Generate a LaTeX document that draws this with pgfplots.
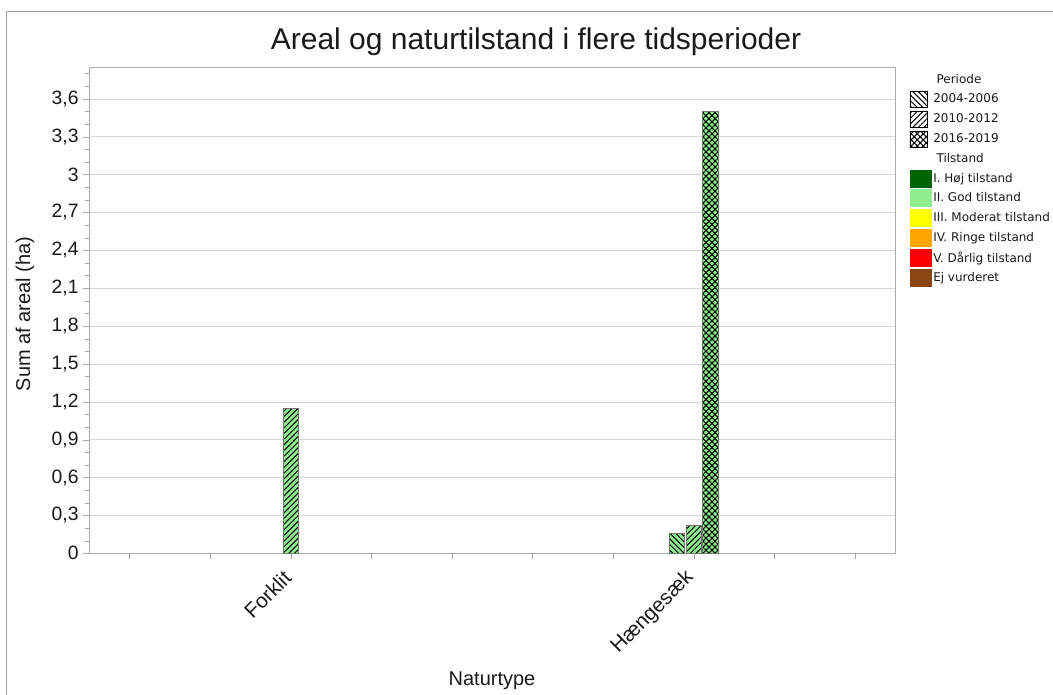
\documentclass[border=0pt]{standalone}
\usepackage{fontspec}
\setmainfont{Liberation Sans}
\newfontfamily\legfont{DejaVu Sans}
\usepackage{pgfplots}
\pgfplotsset{compat=1.18}
\usetikzlibrary{patterns.meta}

\definecolor{hoj}{HTML}{006400}
\definecolor{god}{HTML}{90EE90}
\definecolor{moderat}{HTML}{FFFF00}
\definecolor{ringe}{HTML}{FFA500}
\definecolor{darlig}{HTML}{FF0000}
\definecolor{ejvurd}{HTML}{8B4513}

\begin{document}
\begin{tikzpicture}
\useasboundingbox (-66.975pt,-106.275pt) rectangle (722.775pt,414.975pt);
\draw[gray!75] (-61.95pt,-106.275pt) -- (-61.95pt,406.725pt) -- (722.775pt,406.725pt);
\begin{axis}[
    at={(0pt,0pt)}, anchor=south west,
    scale only axis, width=604.5pt, height=364.5pt,
    xmin=-0.5, xmax=9.5,
    ymin=0, ymax=3.85,
    xtick={0,...,9},
    xticklabels={,,Forklit,,,,,Hængesæk,,},
    ytick={0,0.3,0.6,0.9,1.2,1.5,1.8,2.1,2.4,2.7,3,3.3,3.6},
    minor ytick={0.1,0.2,0.4,0.5,0.7,0.8,1.0,1.1,1.3,1.4,1.6,1.7,1.9,2.0,2.2,2.3,2.5,2.6,2.8,2.9,3.1,3.2,3.4,3.5,3.7,3.8},
    xtick pos=left, ytick pos=left,
    tick align=outside,
    major tick length=4.5pt, minor tick length=3pt,
    tick style={gray!70},
    axis line style={gray!65},
    ymajorgrids, major grid style={gray!30},
    scaled y ticks=false,
    /pgf/number format/assume math mode=true,
    /pgf/number format/use comma,
    yticklabel style={/pgf/number format/fixed, /pgf/number format/precision=1},
    ticklabel style={font=\fontsize{14.5}{17}\selectfont, text=black!90},
    xticklabel style={yshift=-9pt, rotate=45, anchor=east, font=\fontsize{15.5}{18}\selectfont},
    title={Areal og naturtilstand i flere tidsperioder},
    title style={at={(axis description cs:0.5542,1)}, anchor=base, yshift=7pt,
        font=\fontsize{22.5}{26}\selectfont, text=black!90},
    xlabel={Naturtype},
    xlabel style={at={(axis description cs:0.4996,-0.2628)}, anchor=center,
        font=\fontsize{15}{18}\selectfont, text=black!90},
    ylabel={Sum af areal (ha)},
    ylabel style={at={(axis description cs:-0.0797,0.4924)}, anchor=center,
        font=\fontsize{15}{18}\selectfont, text=black!90},
    legend style={at={(axis description cs:1.01762,0.995)}, anchor=north west,
        draw=none, fill=none, inner sep=0pt, outer sep=0pt, row sep=0pt,
        font=\legfont\fontsize{9}{10.5}\selectfont,
        nodes={inner sep=0pt, text=black!90}, cells={anchor=west},
        /tikz/every odd column/.append style={column sep=1pt}},
]

% legend: periods (patterns) and condition classes (colours)
\addlegendimage{legend image code/.code={\path[draw=none,fill=none] (0pt,-7.425pt) rectangle (16.5pt,7.425pt);}}
\addlegendentry[xshift=2.5pt]{Periode}
\addlegendimage{legend image code/.code={\path[draw=none,fill=none] (0pt,-7.425pt) rectangle (16.5pt,7.425pt);
    \draw[black, line width=0.6pt, pattern color=black, pattern={Lines[angle=-45,distance=3pt,line width=0.75pt]}] (0pt,-6pt) rectangle (12.75pt,6pt);}}
\addlegendentry{2004-2006}
\addlegendimage{legend image code/.code={\path[draw=none,fill=none] (0pt,-7.425pt) rectangle (16.5pt,7.425pt);
    \draw[black, line width=0.6pt, pattern color=black, pattern={Lines[angle=45,distance=3pt,line width=0.75pt]}] (0pt,-6pt) rectangle (12.75pt,6pt);}}
\addlegendentry{2010-2012}
\addlegendimage{legend image code/.code={\path[draw=none,fill=none] (0pt,-7.425pt) rectangle (16.5pt,7.425pt);
    \path[draw=none, pattern color=black, pattern={Lines[angle=45,distance=3.2pt,line width=0.8pt]}] (0pt,-6pt) rectangle (12.75pt,6pt);
    \draw[black, line width=0.6pt, pattern color=black, pattern={Lines[angle=-45,distance=3.2pt,line width=0.8pt]}] (0pt,-6pt) rectangle (12.75pt,6pt);}}
\addlegendentry{2016-2019}
\addlegendimage{legend image code/.code={\path[draw=none,fill=none] (0pt,-7.425pt) rectangle (16.5pt,7.425pt);}}
\addlegendentry[xshift=2.5pt]{Tilstand}
\addlegendimage{legend image code/.code={\path[draw=none,fill=none] (0pt,-7.425pt) rectangle (16.5pt,7.425pt);
    \fill[hoj, draw=none] (0pt,-6.75pt) rectangle (16.5pt,6.75pt);}}
\addlegendentry{I. Høj tilstand}
\addlegendimage{legend image code/.code={\path[draw=none,fill=none] (0pt,-7.425pt) rectangle (16.5pt,7.425pt);
    \fill[god, draw=none] (0pt,-6.75pt) rectangle (16.5pt,6.75pt);}}
\addlegendentry{II. God tilstand}
\addlegendimage{legend image code/.code={\path[draw=none,fill=none] (0pt,-7.425pt) rectangle (16.5pt,7.425pt);
    \fill[moderat, draw=none] (0pt,-6.75pt) rectangle (16.5pt,6.75pt);}}
\addlegendentry{III. Moderat tilstand}
\addlegendimage{legend image code/.code={\path[draw=none,fill=none] (0pt,-7.425pt) rectangle (16.5pt,7.425pt);
    \fill[ringe, draw=none] (0pt,-6.75pt) rectangle (16.5pt,6.75pt);}}
\addlegendentry{IV. Ringe tilstand}
\addlegendimage{legend image code/.code={\path[draw=none,fill=none] (0pt,-7.425pt) rectangle (16.5pt,7.425pt);
    \fill[darlig, draw=none] (0pt,-6.75pt) rectangle (16.5pt,6.75pt);}}
\addlegendentry{V. Dårlig tilstand}
\addlegendimage{legend image code/.code={\path[draw=none,fill=none] (0pt,-7.425pt) rectangle (16.5pt,7.425pt);
    \fill[ejvurd, draw=none] (0pt,-6.75pt) rectangle (16.5pt,6.75pt);}}
\addlegendentry{Ej vurderet}

% 2004-2006
\addplot[ybar, bar width=11.6pt, bar shift=-12.56pt, fill=god, draw=black!55, line width=0.5pt,
    postaction={pattern color=black, pattern={Lines[angle=-45,distance=3pt,line width=0.75pt]}}]
    coordinates {(7,0.16)};
% 2010-2012
\addplot[ybar, bar width=11.6pt, bar shift=0pt, fill=god, draw=black!55, line width=0.5pt,
    postaction={pattern color=black, pattern={Lines[angle=45,distance=3pt,line width=0.75pt]}}]
    coordinates {(2,1.15) (7,0.22)};
% 2016-2019
\addplot[ybar, bar width=11.6pt, bar shift=12.56pt, fill=god, draw=black!55, line width=0.5pt,
    postaction={pattern color=black, pattern={Lines[angle=45,distance=3.2pt,line width=0.8pt]}},
    postaction={pattern color=black, pattern={Lines[angle=-45,distance=3.2pt,line width=0.8pt]}}]
    coordinates {(7,3.5)};

\end{axis}
\end{tikzpicture}
\end{document}
